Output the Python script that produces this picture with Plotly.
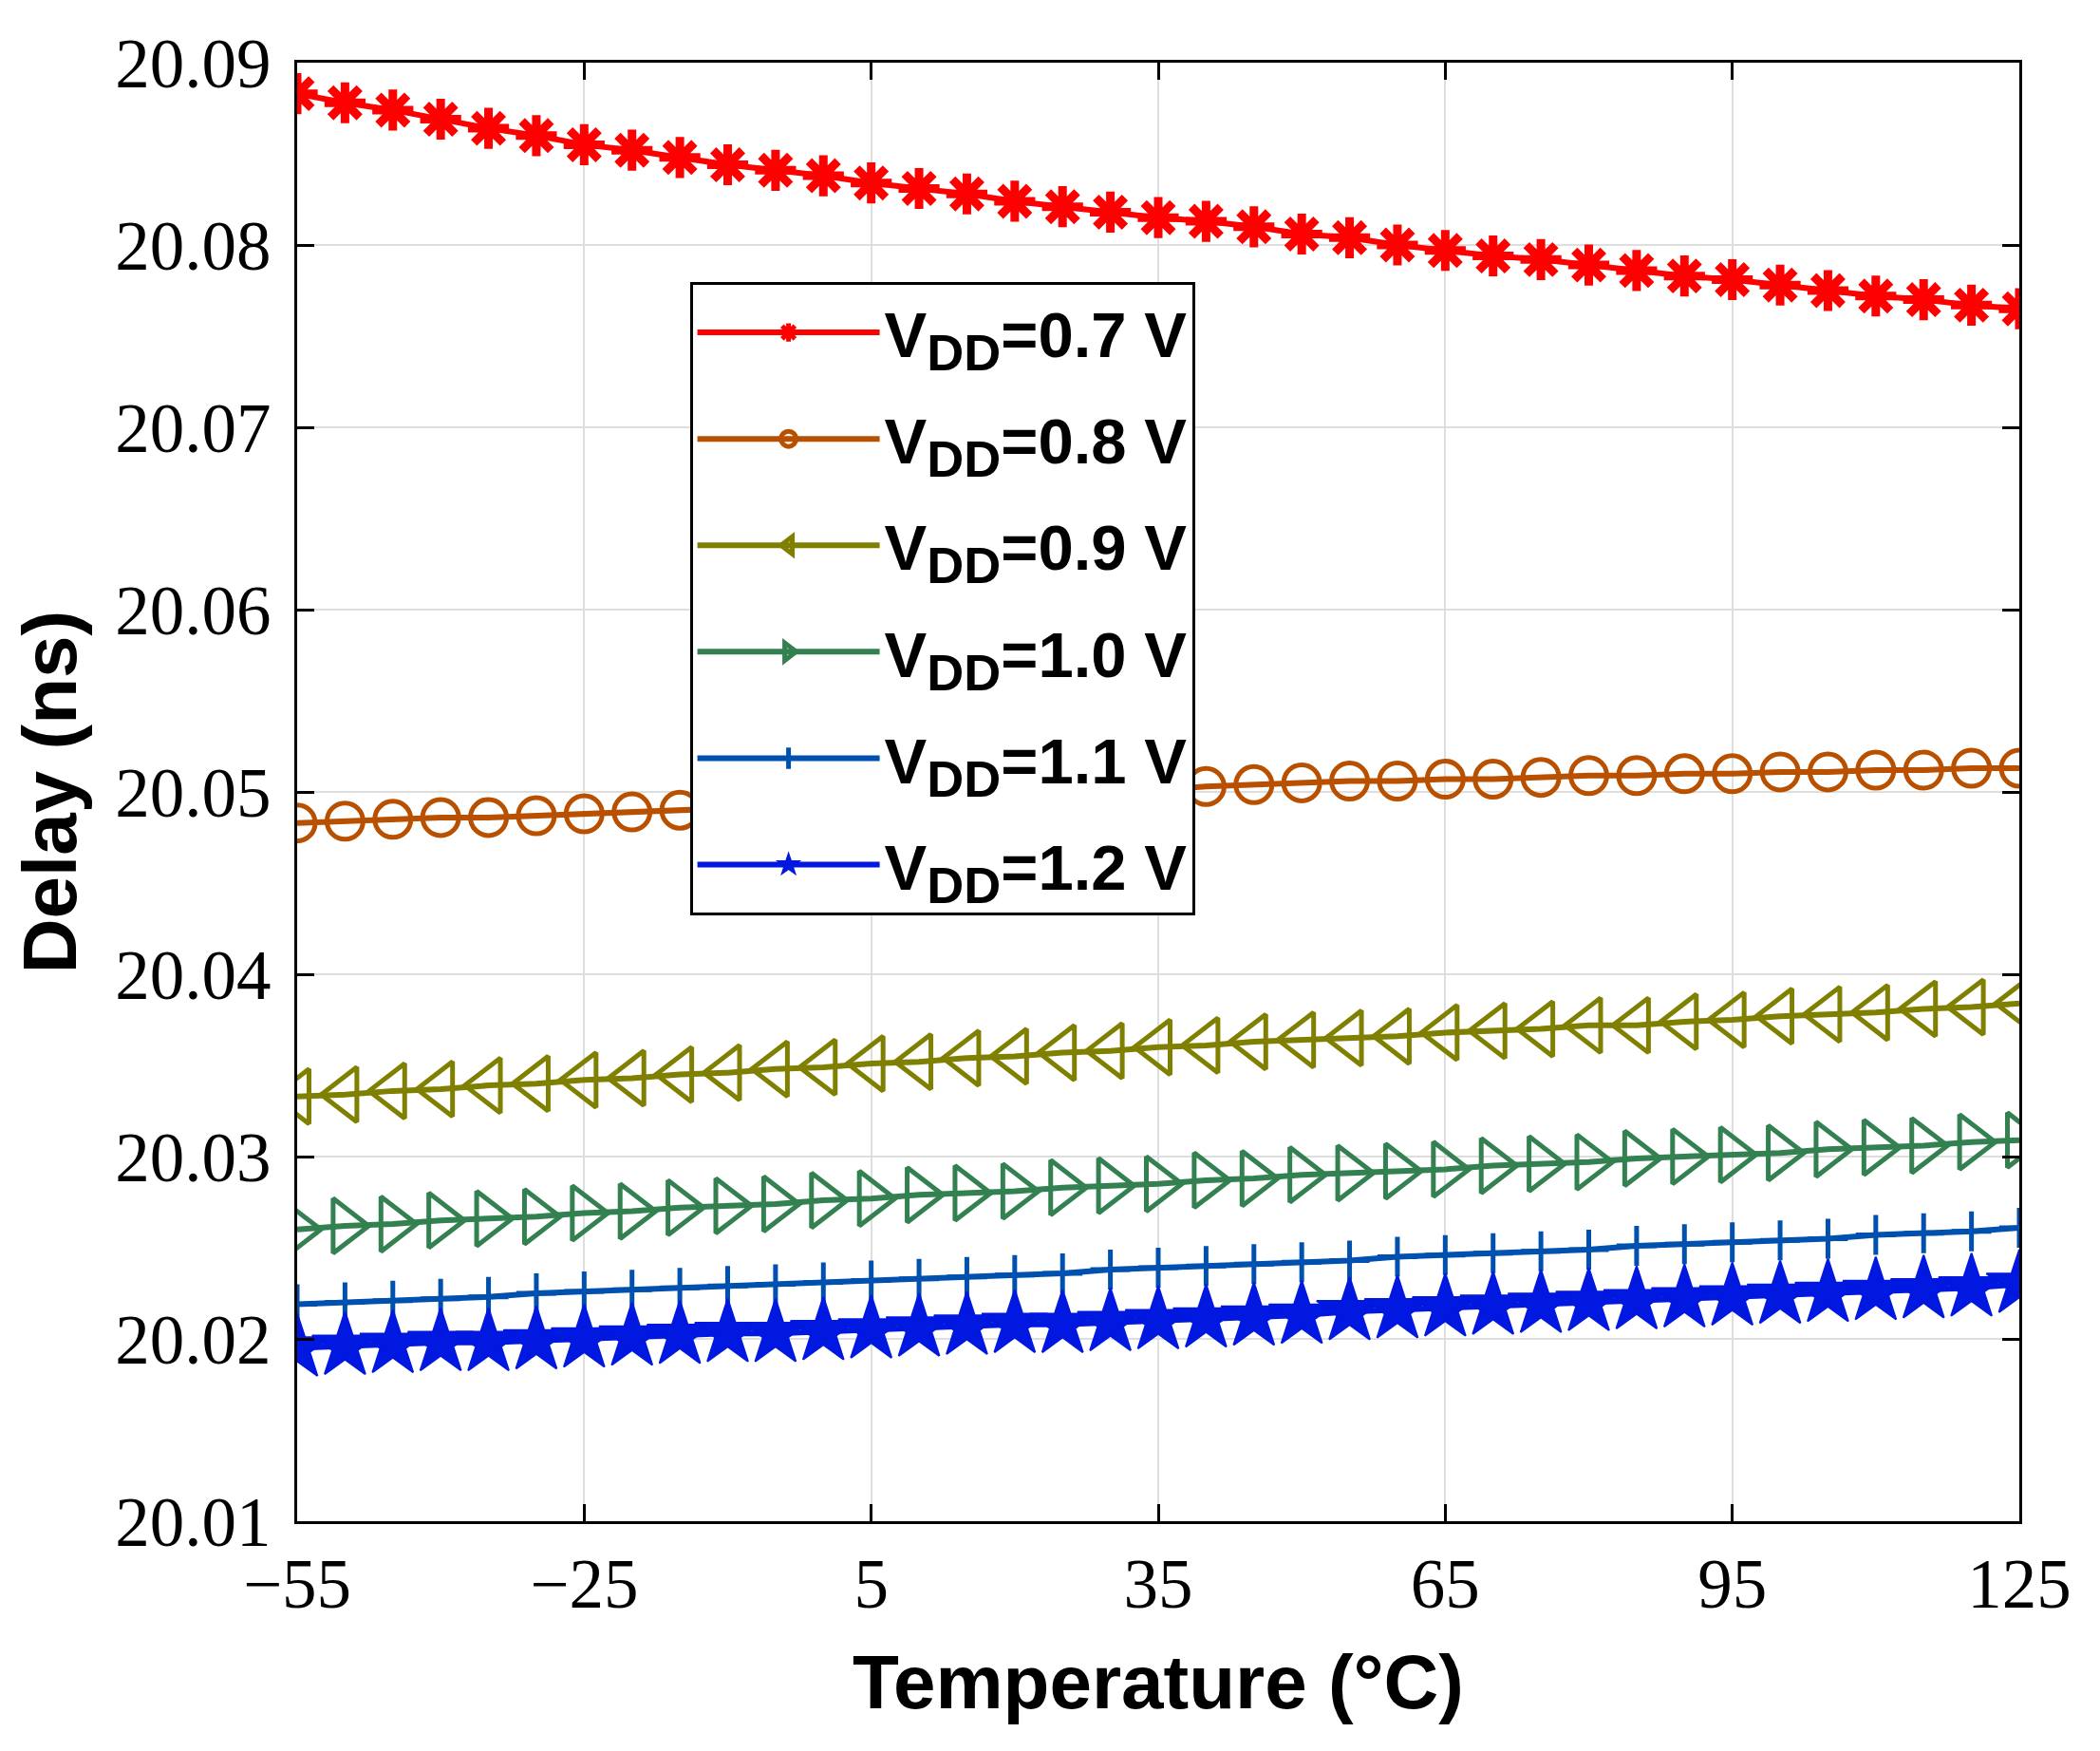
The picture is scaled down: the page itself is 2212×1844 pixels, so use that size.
import plotly.graph_objects as go

# temperature sweep (degC)
temps = [-55, -50, -45, -40, -35, -30, -25, -20, -15, -10, -5, 0, 5, 10, 15, 20, 25, 30, 35,
         40, 45, 50, 55, 60, 65, 70, 75, 80, 85, 90, 95, 100, 105, 110, 115, 120, 125]

# delay (ns) per supply voltage
delay_07 = [20.0883, 20.0878, 20.0874, 20.0869, 20.0864, 20.0860, 20.0855, 20.0852, 20.0848, 20.0844,
            20.0841, 20.0838, 20.0834, 20.0831, 20.0828, 20.0824, 20.0821, 20.0818, 20.0815, 20.0813,
            20.0810, 20.0806, 20.0804, 20.0800, 20.0797, 20.0794, 20.0792, 20.0789, 20.0786, 20.0783,
            20.0781, 20.0778, 20.0775, 20.0772, 20.0770, 20.0767, 20.0765]
delay_08 = [20.0483, 20.0484, 20.0485, 20.0486, 20.0486, 20.0487, 20.0488, 20.0489, 20.0490, 20.0491,
            20.0492, 20.0493, 20.0494, 20.0495, 20.0496, 20.0498, 20.0499, 20.0500, 20.0501, 20.0503,
            20.0504, 20.0505, 20.0506, 20.0506, 20.0507, 20.0507, 20.0508, 20.0509, 20.0509, 20.0510,
            20.0510, 20.0511, 20.0511, 20.0512, 20.0512, 20.0513, 20.0513]
delay_09 = [20.0333, 20.0334, 20.0336, 20.0337, 20.0339, 20.0340, 20.0342, 20.0343, 20.0345, 20.0346,
            20.0348, 20.0349, 20.0351, 20.0352, 20.0354, 20.0355, 20.0357, 20.0358, 20.0360, 20.0361,
            20.0363, 20.0364, 20.0365, 20.0366, 20.0368, 20.0369, 20.0370, 20.0372, 20.0372, 20.0374,
            20.0375, 20.0377, 20.0378, 20.0379, 20.0381, 20.0382, 20.0384]
delay_10 = [20.0260, 20.0262, 20.0263, 20.0265, 20.0266, 20.0267, 20.0269, 20.0270, 20.0272, 20.0273,
            20.0274, 20.0276, 20.0277, 20.0279, 20.0280, 20.0281, 20.0283, 20.0284, 20.0285, 20.0287,
            20.0288, 20.0290, 20.0291, 20.0292, 20.0293, 20.0295, 20.0296, 20.0297, 20.0299, 20.0300,
            20.0301, 20.0302, 20.0304, 20.0305, 20.0306, 20.0308, 20.0309]
delay_11 = [20.0219, 20.0220, 20.0221, 20.0222, 20.0223, 20.0225, 20.0226, 20.0227, 20.0228, 20.0229,
            20.0230, 20.0231, 20.0232, 20.0233, 20.0234, 20.0235, 20.0236, 20.0238, 20.0239, 20.0240,
            20.0241, 20.0242, 20.0243, 20.0245, 20.0246, 20.0247, 20.0248, 20.0249, 20.0251, 20.0252,
            20.0253, 20.0254, 20.0255, 20.0257, 20.0258, 20.0259, 20.0261]
delay_12 = [20.0195, 20.0196, 20.0197, 20.0198, 20.0198, 20.0199, 20.0200, 20.0201, 20.0202, 20.0203,
            20.0203, 20.0204, 20.0205, 20.0206, 20.0207, 20.0208, 20.0208, 20.0209, 20.0210, 20.0211,
            20.0212, 20.0213, 20.0215, 20.0216, 20.0217, 20.0218, 20.0219, 20.0220, 20.0221, 20.0222,
            20.0223, 20.0224, 20.0225, 20.0226, 20.0227, 20.0228, 20.0230]

vdd = ['0.7', '0.8', '0.9', '1.0', '1.1', '1.2']
x_ticks = [-55, -25, 5, 35, 65, 95, 125]
y_ticks = [20.01, 20.02, 20.03, 20.04, 20.05, 20.06, 20.07, 20.08, 20.09]

series = [delay_07, delay_08, delay_09, delay_10, delay_11, delay_12]
colors = ['#FF0000', '#B85000', '#808000', '#338050', '#0050B0', '#0018E0']
symbols = ['asterisk-open', 'circle-open', 'triangle-left-open', 'triangle-right-open',
           'cross-thin-open', 'star']
sizes = [36, 38, 50, 50, 30, 52]
mwidth = [9, 5, 5, 5, 5, 2]

fig = go.Figure()
for i, (y, v, c, s, sz, mw) in enumerate(zip(series, vdd, colors, symbols, sizes, mwidth)):
    name = 'V<sub><span style="font-size:54px">DD</span></sub>=' + v + ' V'
    fig.add_trace(go.Scatter(
        x=temps, y=y, name=name, mode='lines+markers', legendgroup=f'g{i}',
        line=dict(color=c, width=6),
        marker=dict(symbol=s, size=sz, color=c, line=dict(color=c, width=mw)),
    ))

axis_common = dict(
    showline=True, linecolor='black', linewidth=3, mirror='ticks',
    ticks='inside', ticklen=18, tickwidth=3, tickcolor='black',
    showgrid=True, gridcolor='#DEDEDE', gridwidth=2, zeroline=False,
    tickfont=dict(family='Liberation Serif', size=73, color='black'),
)

fig.update_layout(
    width=2212, height=1844,
    paper_bgcolor='white', plot_bgcolor='white',
    margin=dict(l=305, r=93, t=58, b=250),
    xaxis=dict(range=[-55, 125], tickvals=x_ticks,
               title=dict(text='Temperature (°C)', standoff=36,
                          font=dict(family='Liberation Sans', size=80, color='black', weight='bold')),
               ticklabelstandoff=0, **axis_common),
    yaxis=dict(range=[20.01, 20.09], tickvals=y_ticks, tickformat='.2f',
               title=dict(text='Delay (ns)', standoff=30,
                          font=dict(family='Liberation Sans', size=80, color='black', weight='bold')),
               ticklabelstandoff=10, **axis_common),
    legend=dict(x=0.228, y=0.8496, xanchor='left', yanchor='top',
                bgcolor='white', bordercolor='black', borderwidth=3,
                font=dict(family='Liberation Sans', size=67, color='black', weight='bold'),
                itemwidth=192, tracegroupgap=22),
    showlegend=True,
)

fig.write_html("out.html")
